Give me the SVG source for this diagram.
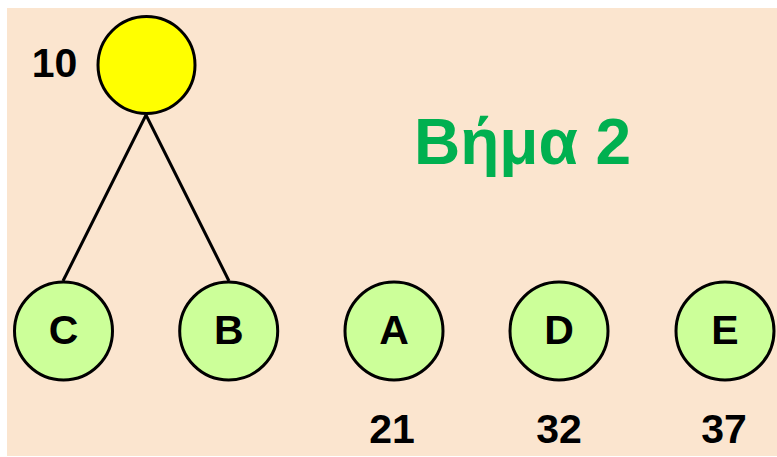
<svg xmlns="http://www.w3.org/2000/svg" width="777" height="457" viewBox="0 0 777 457">
  <style>
    .node { stroke: #000; stroke-width: 3; }
    .leaf { fill: #CCFF99; }
    .root { fill: #FFFF00; }
    .lbl { font-family: "Liberation Sans", Arial, sans-serif; font-weight: bold; font-size: 41px; text-anchor: middle; fill: #000; }
    .edge { stroke: #000; stroke-width: 3; fill: none; }
    .title { font-family: "Liberation Sans", Arial, sans-serif; font-weight: bold; font-size: 64px; text-anchor: middle; fill: #00B050; }
  </style>
  <rect x="0" y="0" width="777" height="457" fill="#FFFFFF"/>
  <rect x="7" y="8" width="770" height="448" fill="#FBE5CF"/>

  <g id="connectors">
    <line class="edge" x1="146" y1="115" x2="63" y2="281"/>
    <line class="edge" x1="146" y1="115" x2="229" y2="281"/>
  </g>

  <g id="node-root">
    <circle class="node root" cx="146.5" cy="65" r="48.5"/>
    <text class="lbl" x="54.5" y="77">10</text>
  </g>
  <g id="node-C">
    <circle class="node leaf" cx="63.5" cy="331" r="49"/>
    <text class="lbl" x="63.5" y="344">C</text>
  </g>
  <g id="node-B">
    <circle class="node leaf" cx="228.7" cy="331" r="49"/>
    <text class="lbl" x="228.7" y="344">B</text>
  </g>
  <g id="node-A">
    <circle class="node leaf" cx="394" cy="331" r="49"/>
    <text class="lbl" x="394" y="344">A</text>
    <text class="lbl" x="392" y="443">21</text>
  </g>
  <g id="node-D">
    <circle class="node leaf" cx="559" cy="331" r="49"/>
    <text class="lbl" x="559" y="344">D</text>
    <text class="lbl" x="559" y="443">32</text>
  </g>
  <g id="node-E">
    <circle class="node leaf" cx="725" cy="331" r="49"/>
    <text class="lbl" x="725" y="344">E</text>
    <text class="lbl" x="724" y="443">37</text>
  </g>

  <text class="title" x="522.5" y="164">Βήμα 2</text>
</svg>
